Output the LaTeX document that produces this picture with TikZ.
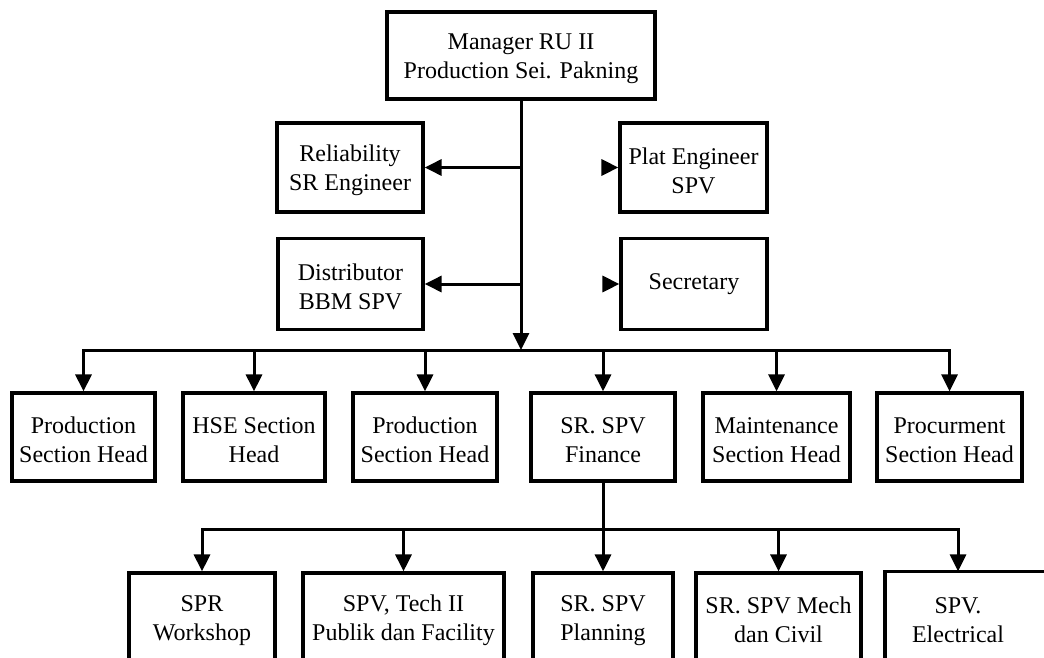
\documentclass[tikz,border=0pt]{standalone}
\usepackage{fontspec}
\setmainfont{Liberation Serif}
\usetikzlibrary{arrows.meta}
\newcommand{\topstrut}{\rule{0pt}{23pt}}
\begin{document}
\begin{tikzpicture}[x=1pt,y=-1pt,
  orgbox/.style={draw, line width=3.2pt, align=center, inner sep=0pt,
    minimum height=88pt, font=\fontsize{24}{29}\selectfont, fill=white},
  arr/.style={line width=3pt, -{Triangle[length=17pt,width=16pt]}},
  link/.style={line width=3pt, line cap=rect}]
\useasboundingbox (0,0) rectangle (1044,658);
\clip (0,0) rectangle (1044,658);

% top
\node[orgbox, minimum width=268pt, minimum height=87pt] (mgr) at (521,55.5) {\topstrut Manager RU II\\Production Sei. Pakning};

% side boxes
\node[orgbox, minimum width=146pt, minimum height=89pt] (rel) at (350,167.5) {\topstrut Reliability\\SR Engineer};
\node[orgbox, minimum width=147pt, minimum height=89pt] (pe) at (693.5,167.5) {\topstrut Plat Engineer\\SPV};
\node[orgbox, minimum width=145pt, minimum height=91pt] (dist) at (350.5,284) {\topstrut Distributor\\BBM SPV};
\node[orgbox, minimum width=146pt, minimum height=91pt] (sec) at (694,284) {Secretary};

% middle row
\node[orgbox, minimum width=143pt] (p1) at (83.5,437) {\topstrut Production\\Section Head};
\node[orgbox, minimum width=142pt] (hse) at (254,437) {\topstrut HSE Section\\Head};
\node[orgbox, minimum width=144pt] (p2) at (425,437) {\topstrut Production\\Section Head};
\node[orgbox, minimum width=144pt] (fin) at (603,437) {\topstrut SR. SPV\\Finance};
\node[orgbox, minimum width=147pt] (mnt) at (776.5,437) {\topstrut Maintenance\\Section Head};
\node[orgbox, minimum width=145pt] (proc) at (949.5,437) {\topstrut Procurment\\Section Head};

% bottom row
\node[orgbox, minimum width=146pt] (spr) at (202,617) {\topstrut SPR\\Workshop};
\node[orgbox, minimum width=201pt] (tech) at (403.5,617) {\topstrut SPV, Tech II\\Publik dan Facility};
\node[orgbox, minimum width=140pt] (plan) at (603,617) {\topstrut SR. SPV\\Planning};
\node[orgbox, minimum width=165pt] (mech) at (778.5,617) {\topstrut SR. SPV Mech\\dan Civil};
\node[orgbox, draw=none, fill=none, minimum width=143pt] (elec) at (958,617) {\topstrut SPV.\\Electrical};
\draw[line width=3.2pt] (elec.south west) -- (elec.north west) -- ++(200,0);

% connectors level 1
\coordinate (busL) at (83.5,350);
\coordinate (busR) at (949.5,350);
\draw[link] (busL) -- (busR);
\draw[arr] (mgr.south) -- (mgr.south |- busL);
\draw[arr] (mgr.south |- rel.east) -- (rel.east);
\draw[arr] (mgr.south |- dist.east) -- (dist.east);
\coordinate (peT) at (603,167.5);
\coordinate (secT) at (604,284);
\draw[arr] (peT) -- (pe.west);
\draw[arr] (secT) -- (sec.west);
\foreach \n in {p1,hse,p2,fin,mnt,proc}
  \draw[arr] (\n.north |- busL) -- (\n.north);

% connectors level 2
\coordinate (bus2L) at (202,529);
\coordinate (bus2R) at (958,529);
\draw[link] (bus2L) -- (bus2R);
\draw[arr] (fin.south) -- (plan.north);
\foreach \n in {spr,tech,mech,elec}
  \draw[arr] (\n.north |- bus2L) -- (\n.north);
\end{tikzpicture}
\end{document}
